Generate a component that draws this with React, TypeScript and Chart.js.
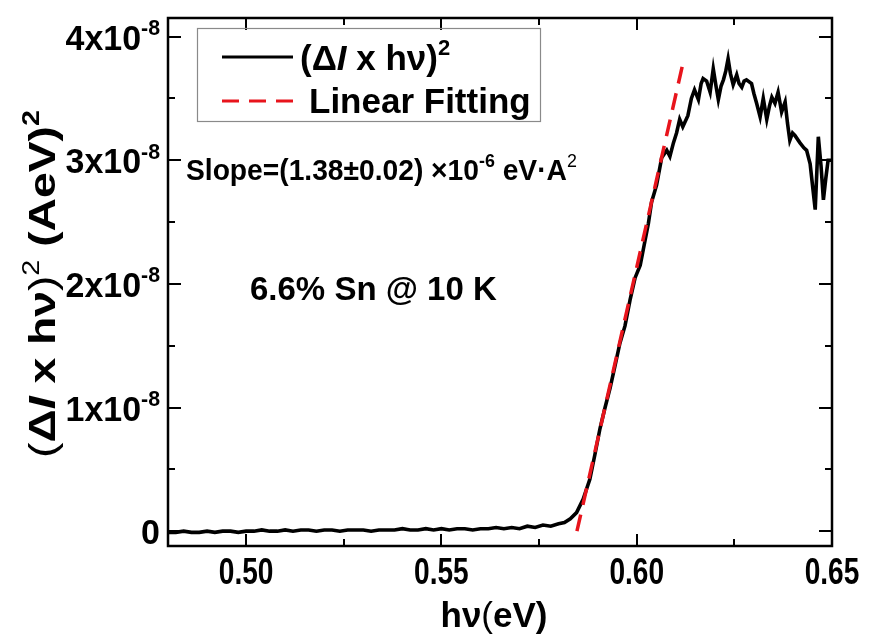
import React, { useEffect, useRef } from 'react';
import { Chart, registerables } from 'chart.js';

Chart.register(...registerables);

// photon energy (eV)
const hvEV = [
  0.480, 0.482, 0.484, 0.486, 0.488, 0.490, 0.492, 0.494, 0.496, 0.498,
  0.500, 0.502, 0.504, 0.506, 0.508, 0.510, 0.512, 0.514, 0.516, 0.518,
  0.520, 0.522, 0.524, 0.526, 0.528, 0.530, 0.532, 0.534, 0.536, 0.538,
  0.540, 0.542, 0.544, 0.546, 0.548, 0.550, 0.552, 0.554, 0.556, 0.558,
  0.560, 0.562, 0.564, 0.566, 0.568, 0.570, 0.572, 0.574, 0.576, 0.578,
  0.580, 0.5815, 0.583, 0.5846, 0.5863, 0.588, 0.5893, 0.5906, 0.5919, 0.5932,
  0.5944, 0.5957, 0.597, 0.5983, 0.5996, 0.6009, 0.6017, 0.603, 0.6038, 0.6051,
  0.6064, 0.6077, 0.6085, 0.6094, 0.6102, 0.611, 0.6118, 0.6131, 0.614, 0.6148,
  0.6158, 0.6165, 0.617, 0.6179, 0.6188, 0.6196, 0.6203, 0.6209, 0.6216, 0.6222,
  0.6228, 0.6234, 0.624, 0.6247, 0.6256, 0.6262, 0.6269, 0.6275, 0.6281, 0.6294,
  0.63, 0.6307, 0.6316, 0.6324, 0.6333, 0.634, 0.6346, 0.6354, 0.6362, 0.6371,
  0.638, 0.6386, 0.6392, 0.6399, 0.6405, 0.6418, 0.6428, 0.6435, 0.6444, 0.645,
  0.6457, 0.6465, 0.6472, 0.6478, 0.6484, 0.649, 0.65,
];

// (ΔI x hν)^2 in units of 1e-8 (AeV)^2
const signalE8 = [
  -0.01, -0.01, 0.0, -0.01, -0.01, 0.0, -0.01, 0.0, 0.0, -0.01,
  0.0, 0.0, 0.01, 0.0, 0.0, 0.01, 0.0, 0.01, 0.01, 0.0,
  0.01, 0.01, 0.0, 0.01, 0.01, 0.01, 0.0, 0.01, 0.01, 0.01,
  0.02, 0.01, 0.01, 0.02, 0.01, 0.02, 0.01, 0.02, 0.02, 0.01,
  0.02, 0.02, 0.03, 0.02, 0.03, 0.02, 0.04, 0.03, 0.05, 0.04,
  0.06, 0.07, 0.1, 0.15, 0.26, 0.42, 0.62, 0.83, 1.0, 1.16,
  1.33, 1.52, 1.66, 1.87, 2.05, 2.15, 2.28, 2.49, 2.66, 2.8,
  3.02, 3.08, 3.03, 3.14, 3.22, 3.33, 3.27, 3.36, 3.5, 3.57,
  3.49, 3.62, 3.66, 3.64, 3.55, 3.74, 3.6, 3.49, 3.6, 3.65,
  3.72, 3.82, 3.7, 3.61, 3.69, 3.62, 3.59, 3.64, 3.65, 3.62,
  3.54, 3.46, 3.35, 3.5, 3.33, 3.44, 3.51, 3.46, 3.55, 3.39,
  3.47, 3.3, 3.16, 3.22, 3.2, 3.14, 3.1, 3.08, 2.97, 2.8,
  2.6, 3.19, 2.95, 2.68, 2.85, 3.0, 3.0,
];

// linear fit endpoints
const fitHvEV = [0.5847, 0.6121];
const fitE8 = [0.0, 3.82];

// ticks
const xMajorTicks = [0.5, 0.55, 0.6, 0.65];
const xTickLabels = ['0.50', '0.55', '0.60', '0.65'];
const xMinorTicks = [0.525, 0.575, 0.625];
const yMajorTicks = [0, 1, 2, 3, 4];
const yTickLabels = ['0', '1', '2', '3', '4'];
const yMinorTicks = [0.5, 1.5, 2.5, 3.5];

const FONT = '"Liberation Sans", Arial, Helvetica, sans-serif';

type Run = { t: string; it?: boolean; sup?: boolean; normal?: boolean };

function fontFor(r: Run, size: number) {
  const s = r.sup ? Math.round(size * 0.62) : size;
  return `${r.it ? 'italic ' : ''}${r.normal ? '' : 'bold '}${s}px ${FONT}`;
}
function richWidth(ctx: CanvasRenderingContext2D, runs: Run[], size: number) {
  let w = 0;
  for (const r of runs) {
    ctx.font = fontFor(r, size);
    w += ctx.measureText(r.t).width;
  }
  return w;
}
function drawRich(
  ctx: CanvasRenderingContext2D,
  runs: Run[],
  x: number,
  y: number,
  size: number,
  align: 'left' | 'center' | 'right',
  sx = 1
) {
  const w = richWidth(ctx, runs, size) * sx;
  const start = align === 'left' ? x : align === 'center' ? x - w / 2 : x - w;
  ctx.save();
  ctx.translate(start, y);
  ctx.scale(sx, 1);
  ctx.textAlign = 'left';
  ctx.textBaseline = 'alphabetic';
  let cx = 0;
  for (const r of runs) {
    ctx.font = fontFor(r, size);
    ctx.fillText(r.t, cx, r.sup ? -size * 0.42 : 0);
    cx += ctx.measureText(r.t).width;
  }
  ctx.restore();
}

const isNear = (a: number, b: number) => Math.abs(a - b) < 1e-6;

const decorPlugin = {
  id: 'decor',
  afterDraw(chart: any) {
    const ctx: CanvasRenderingContext2D = chart.ctx;
    const a = chart.chartArea;
    const xs = chart.scales.x;
    const ys = chart.scales.y;
    ctx.save();
    ctx.strokeStyle = '#000';
    ctx.fillStyle = '#000';
    ctx.lineWidth = 2;
    const seg = (x1: number, y1: number, x2: number, y2: number) => {
      ctx.beginPath();
      ctx.moveTo(x1, y1);
      ctx.lineTo(x2, y2);
      ctx.stroke();
    };
    for (const t of xs.ticks) {
      const px = Math.round(xs.getPixelForValue(t.value));
      const len = xMajorTicks.some((v) => isNear(v, t.value)) ? 12 : 7;
      seg(px, a.bottom, px, a.bottom - len);
      seg(px, a.top, px, a.top + len);
    }
    for (const t of ys.ticks) {
      const py = Math.round(ys.getPixelForValue(t.value));
      const len = yMajorTicks.some((v) => isNear(v, t.value)) ? 13 : 7;
      seg(a.left, py, a.left + len, py);
      seg(a.right, py, a.right - len, py);
    }
    ctx.lineWidth = 2.5;
    ctx.strokeRect(a.left, a.top, a.right - a.left, a.bottom - a.top);

    // x tick labels
    xMajorTicks.forEach((v, i) => {
      const px = xs.getPixelForValue(v);
      drawRich(ctx, [{ t: xTickLabels[i] }], px, a.bottom + 38, 36, 'center', 0.78);
    });

    // y tick labels
    yMajorTicks.forEach((v, i) => {
      const py = ys.getPixelForValue(v);
      const runs: Run[] =
        v === 0 ? [{ t: yTickLabels[i] }] : [{ t: yTickLabels[i] + 'x10' }, { t: '-8', sup: true }];
      drawRich(ctx, runs, a.left - 8, py + 13, 35, 'right', 0.97);
    });

    // y title
    ctx.save();
    ctx.translate(55, 284);
    ctx.rotate(-Math.PI / 2);
    drawRich(
      ctx,
      [
        { t: '(', normal: true },
        { t: 'Δ' },
        { t: 'I', it: true },
        { t: ' x hν' },
        { t: ')', normal: true },
        { t: '2', sup: true, normal: true },
        { t: ' (AeV)' },
        { t: '2', sup: true },
      ],
      0,
      0,
      37,
      'center',
      1.25
    );
    ctx.restore();

    // x title
    drawRich(
      ctx,
      [{ t: 'hν' }, { t: '(', normal: true }, { t: 'eV)' }],
      (a.left + a.right) / 2 - 6,
      627,
      35,
      'center'
    );

    // legend
    ctx.lineWidth = 1.2;
    ctx.strokeStyle = '#8a8a8a';
    ctx.strokeRect(197.5, 28.5, 343, 93);
    ctx.lineWidth = 3;
    ctx.strokeStyle = '#000';
    seg(222, 57, 293, 57);
    ctx.strokeStyle = '#e8141c';
    ctx.setLineDash([17, 10]);
    seg(222, 101, 296, 101);
    ctx.setLineDash([]);
    ctx.fillStyle = '#000';
    drawRich(
      ctx,
      [{ t: '(Δ' }, { t: 'I', it: true }, { t: ' x hν)' }, { t: '2', sup: true }],
      300,
      70,
      35,
      'left'
    );
    drawRich(ctx, [{ t: 'Linear Fitting' }], 309, 113, 35, 'left');

    // annotations
    drawRich(
      ctx,
      [
        { t: 'Slope=(1.38±0.02) ×10' },
        { t: '-6', sup: true },
        { t: ' eV·A' },
        { t: '2', sup: true, normal: true },
      ],
      186,
      180,
      30,
      'left',
      0.94
    );
    drawRich(ctx, [{ t: '6.6% Sn @ 10 K' }], 250, 300, 33, 'left');
    ctx.restore();
  },
};

export default function App() {
  const ref = useRef<HTMLCanvasElement | null>(null);
  useEffect(() => {
    if (!ref.current) return;
    const curve = hvEV.map((x, i) => ({ x, y: signalE8[i] }));
    const fit = fitHvEV.map((x, i) => ({ x, y: fitE8[i] }));
    const chart = new Chart(ref.current, {
      type: 'line',
      data: {
        datasets: [
          {
            label: 'Linear Fitting',
            data: fit,
            borderColor: '#e8141c',
            borderWidth: 3.5,
            borderDash: [17, 10],
            pointRadius: 0,
            tension: 0,
          },
          {
            label: '(ΔI x hν)²',
            data: curve,
            borderColor: '#000',
            borderWidth: 3.6,
            pointRadius: 0,
            tension: 0,
          },
        ],
      },
      options: {
        responsive: false,
        animation: false,
        events: [],
        layout: { padding: { top: 18, right: 38, left: 0, bottom: 0 } },
        plugins: { legend: { display: false }, tooltip: { enabled: false } },
        scales: {
          x: {
            type: 'linear',
            min: 0.48,
            max: 0.65,
            grid: { display: false },
            border: { display: false },
            afterBuildTicks: (s: any) => {
              s.ticks = [...xMajorTicks, ...xMinorTicks].sort((p, q) => p - q).map((v) => ({ value: v }));
            },
            afterFit: (s: any) => {
              s.height = 96;
            },
            ticks: { display: false },
          },
          y: {
            type: 'linear',
            min: -0.12,
            max: 4.15,
            grid: { display: false },
            border: { display: false },
            afterBuildTicks: (s: any) => {
              s.ticks = [...yMajorTicks, ...yMinorTicks].sort((p, q) => p - q).map((v) => ({ value: v }));
            },
            afterFit: (s: any) => {
              s.width = 168;
            },
            ticks: { display: false },
          },
        },
      },
      plugins: [decorPlugin],
    });
    return () => chart.destroy();
  }, []);
  return (
    <div style={{ position: 'fixed', left: 0, top: 0, width: 870, height: 642, background: '#fff' }}>
      <canvas ref={ref} width={870} height={642} style={{ display: 'block' }} />
    </div>
  );
}
